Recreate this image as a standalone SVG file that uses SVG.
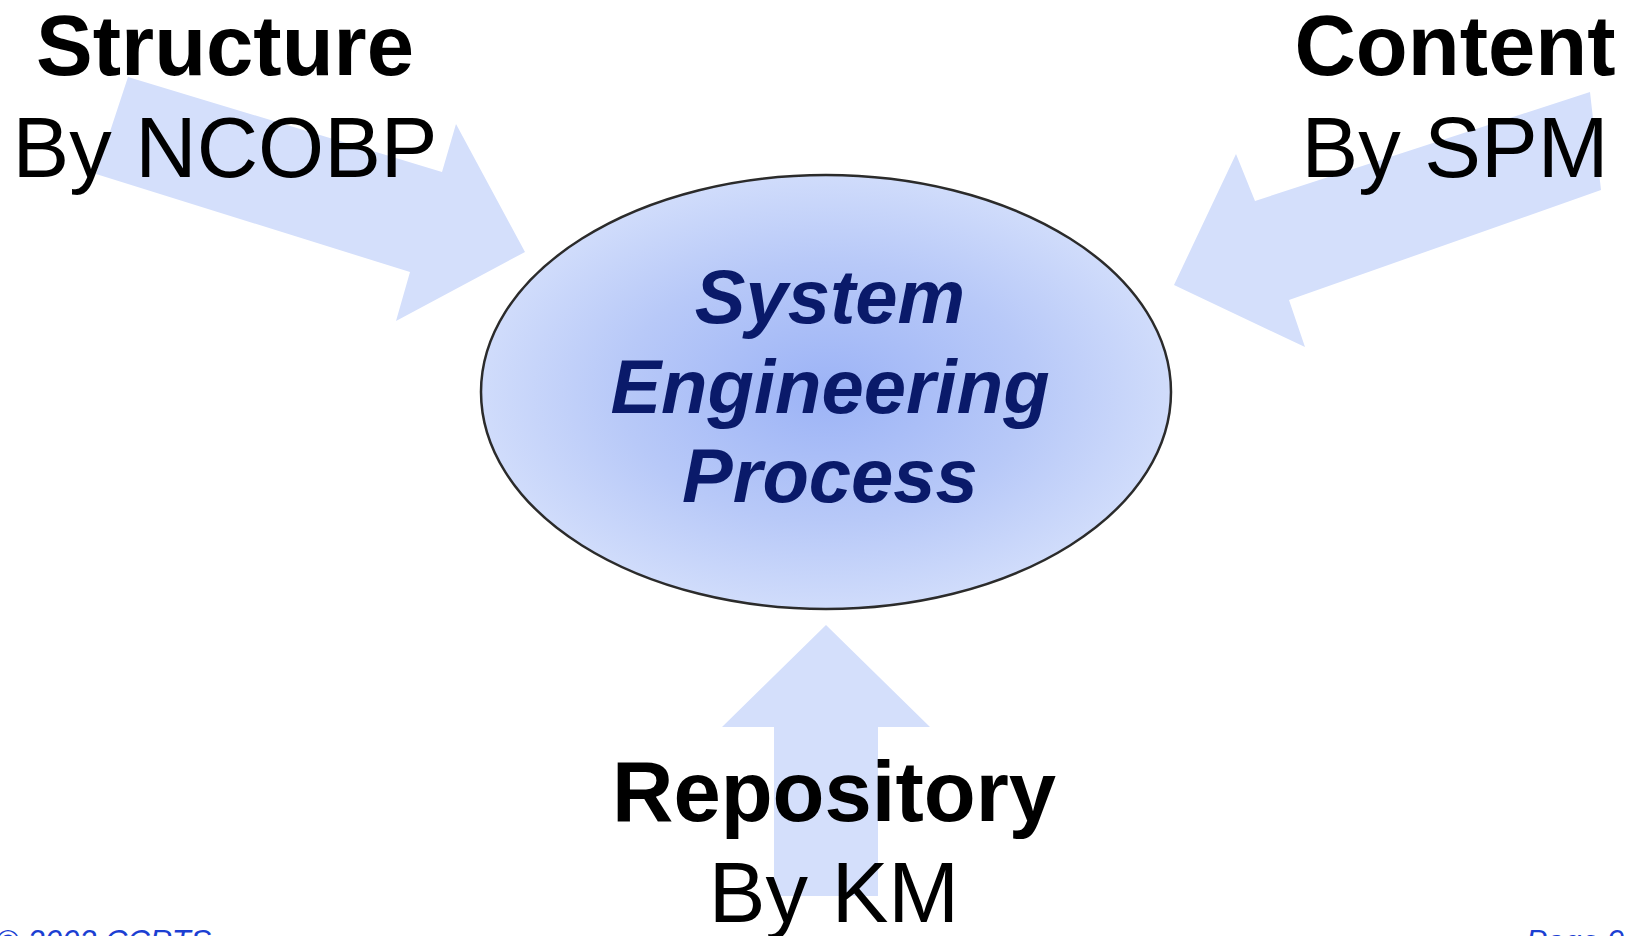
<svg xmlns="http://www.w3.org/2000/svg" width="1633" height="936" viewBox="0 0 1633 936">
<style>
.arrow{fill:#d4dffb;stroke:none}
.lbl{font-family:"Liberation Sans",Arial,sans-serif;fill:#000;text-anchor:middle;font-size:85px}
.b{font-weight:bold}
.core{font-family:"Liberation Sans",Arial,sans-serif;font-weight:bold;font-style:italic;fill:#0a1a6a;text-anchor:middle;font-size:76px}
.foot{font-family:"Liberation Sans",Arial,sans-serif;font-style:italic;fill:#1c3fd2;font-size:31px}
</style>
<defs>
<radialGradient id="g" cx="0.5" cy="0.5" r="0.5">
<stop offset="0" stop-color="#9cb3f6"/>
<stop offset="0.6" stop-color="#b8c9f8"/>
<stop offset="1" stop-color="#d0dcfb"/>
</radialGradient>
</defs>
<rect width="1633" height="936" fill="#fff"/>
<g id="connectors">
<polygon class="arrow" points="128,77 442,172 456,124 525,252 396,321 410,272 96,174"/>
<polygon class="arrow" points="1590,92 1601,190 1289,300 1305,347 1174,285 1236,154 1255,201"/>
<polygon class="arrow" points="826,625 930,727 878,727 878,896 774,896 774,727 722,727"/>
</g>
<g id="process">
<ellipse cx="826" cy="392" rx="345" ry="217" fill="url(#g)" stroke="#2b2b2b" stroke-width="2.5"/>
<text class="core" x="830" y="323">System</text>
<text class="core" x="830" y="413">Engineering</text>
<text class="core" x="830" y="502">Process</text>
</g>
<g id="structure">
<text class="lbl b" x="225" y="75">Structure</text>
<text class="lbl" x="225" y="177">By NCOBP</text>
</g>
<g id="content">
<text class="lbl b" x="1455" y="75">Content</text>
<text class="lbl" x="1455" y="177">By SPM</text>
</g>
<g id="repository">
<text class="lbl b" x="834" y="821">Repository</text>
<text class="lbl" x="834" y="922">By KM</text>
</g>
<g id="footer">
<text class="foot" x="-4" y="952">© 2002 CCRTS</text>
<text class="foot" x="1526" y="952">Page 9</text>
</g>
</svg>
